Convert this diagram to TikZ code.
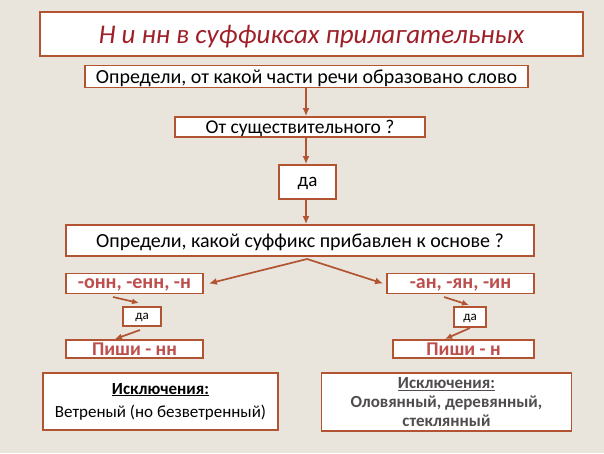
\documentclass[tikz,border=0pt]{standalone}
\usepackage{fontspec}
\setmainfont{Carlito}
\usetikzlibrary{arrows.meta}
\definecolor{bg}{RGB}{233,229,221}
\definecolor{frame}{RGB}{178,84,50}
\definecolor{titlered}{RGB}{158,32,40}
\definecolor{sufred}{RGB}{190,78,76}
\definecolor{exgray}{RGB}{80,76,76}
\tikzset{
  box/.style={draw=frame, line width=1.8pt, fill=white, inner sep=0pt, align=center},
  one/.style={text depth=0pt},
  arr/.style={draw=frame, line width=1.7pt, -{Latex[length=8pt,width=7pt]}},
  sarr/.style={draw=frame, line width=1.7pt, -{Latex[length=7pt,width=6pt]}},
  plain/.style={font=\fontsize{20}{22}\selectfont},
  suf/.style={font=\fontsize{20}{22}\selectfont\bfseries, text=sufred},
}
\begin{document}
\begin{tikzpicture}[x=1pt,y=-1pt]
\fill[bg] (0,0) rectangle (604,453);
\useasboundingbox (0,0) rectangle (604,453);

\node[box, one, minimum width=543pt, minimum height=44pt] (title) at (311.5,34)
  {\fontsize{27}{30}\selectfont\itshape\color{titlered}Н и нн в суффиксах прилагательных};
\node[box, one, plain, minimum width=443pt, minimum height=22pt] (q1) at (306.5,76.5)
  {Определи, от какой части речи образовано слово};
\node[box, one, plain, font=\fontsize{19.5}{20}\selectfont, minimum width=250pt, minimum height=20pt] (q2) at (300,127)
  {От существительного ?};
\node[box, one, plain, font=\fontsize{19}{20}\selectfont, minimum width=57pt, minimum height=34pt] (yes1) at (307.5,182)
  {да};
\node[box, one, plain, minimum width=468pt, minimum height=31pt] (q3) at (300,240.5)
  {Определи, какой суффикс прибавлен к основе ?};

\node[box, one, suf, minimum width=137pt, minimum height=20pt] (sl) at (134.5,283.5) {-онн, -енн, -н};
\node[box, one, suf, minimum width=147pt, minimum height=20pt] (sr) at (460.5,283.5) {-ан, -ян, -ин};

\node[box, one, font=\fontsize{13}{14}\selectfont, line width=1.5pt, minimum width=38pt, minimum height=19pt] (yl) at (142,316.5) {да};
\node[box, one, font=\fontsize{13}{14}\selectfont, line width=1.5pt, minimum width=32pt, minimum height=20pt] (yr) at (470,317) {да};

\node[box, one, suf, font=\fontsize{19.5}{20}\selectfont\bfseries, minimum width=137pt, minimum height=18pt] (pl) at (134.5,349) {Пиши - нн};
\node[box, one, suf, font=\fontsize{19.5}{20}\selectfont\bfseries, minimum width=141pt, minimum height=18pt] (pr) at (463.5,349) {Пиши - н};

\node[box, minimum width=235pt, minimum height=57pt, font=\fontsize{17}{23}\selectfont] (exl) at (160.5,401.5)
  {\textbf{\underline{Исключения:}}\\Ветреный (но безветренный)};
\node[box, minimum width=250pt, minimum height=58pt, font=\fontsize{17}{19}\selectfont\bfseries, text=exgray] (exr) at (446.5,402)
  {\underline{Исключения:}\\Оловянный, деревянный,\\стеклянный};

% vertical connectors
\coordinate (ax) at (306,0);
\draw[arr] (q1.south -| ax) -- (q2.north -| ax);
\draw[arr] (q2.south -| ax) -- (yes1.north -| ax);
\draw[arr] (yes1.south -| ax) -- (q3.north -| ax);

% branch
\coordinate (apex) at (307,259);
\draw[arr] (apex) -- ([xshift=5pt]sl.east);
\draw[arr] (apex) -- ([xshift=-3pt]sr.west);

% small arrows
\coordinate (l1a) at (113,297);
\coordinate (l1b) at (139,303);
\coordinate (l2a) at (140,330);
\coordinate (l2b) at (115,339);
\coordinate (r1a) at (444,297);
\coordinate (r1b) at (469,305);
\coordinate (r2a) at (470,328);
\coordinate (r2b) at (445,339);
\draw[sarr] (l1a) -- (l1b);
\draw[sarr] (l2a) -- (l2b);
\draw[sarr] (r1a) -- (r1b);
\draw[sarr] (r2a) -- (r2b);
\end{tikzpicture}
\end{document}
